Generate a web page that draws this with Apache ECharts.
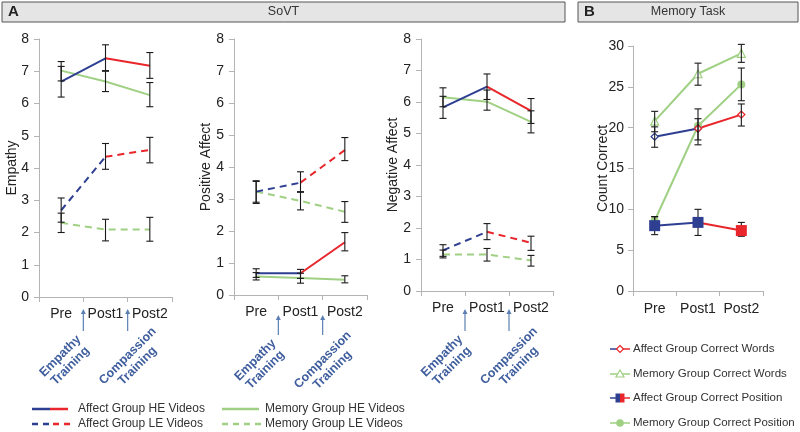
<!DOCTYPE html>
<html><head><meta charset="utf-8">
<script src="https://cdn.jsdelivr.net/npm/echarts@6/dist/echarts.min.js"></script>
<style>html,body{margin:0;padding:0;background:#fff}#c{width:800px;height:432px}</style>
</head><body><div id="c"></div>
<script>
// ---------- DATA ----------
const categories = ['Pre', 'Post1', 'Post2'];
const yTicksA = [0, 1, 2, 3, 4, 5, 6, 7, 8];
const yTicksB = [0, 5, 10, 15, 20, 25, 30];

// Empathy
const empAffectHE = [6.68, 7.40, 7.17];
const empAffectHELo = [6.20, 7.02, 6.78];
const empAffectHEHi = [7.15, 7.82, 7.58];
const empMemoryHE = [7.02, 6.68, 6.26];
const empMemoryHELo = [6.70, 6.37, 5.90];
const empMemoryHEHi = [7.30, 7.00, 6.65];
const empAffectLE = [2.69, 4.35, 4.56];
const empAffectLELo = [2.32, 3.96, 4.16];
const empAffectLEHi = [3.07, 4.76, 4.95];
const empMemoryLE = [2.30, 2.09, 2.09];
const empMemoryLELo = [2.00, 1.74, 1.73];
const empMemoryLEHi = [2.60, 2.41, 2.47];

// Positive Affect
const posAffectHE = [0.68, 0.68, 1.65];
const posAffectHELo = [0.55, 0.52, 1.38];
const posAffectHEHi = [0.82, 0.80, 1.95];
const posMemoryHE = [0.58, 0.53, 0.48];
const posMemoryHELo = [0.47, 0.37, 0.38];
const posMemoryHEHi = [0.70, 0.68, 0.60];
const posAffectLE = [3.23, 3.51, 4.53];
const posAffectLELo = [2.86, 3.21, 4.20];
const posAffectLEHi = [3.57, 3.85, 4.92];
const posMemoryLE = [3.23, 2.94, 2.60];
const posMemoryLELo = [2.90, 2.66, 2.27];
const posMemoryLEHi = [3.55, 3.23, 2.92];

// Negative Affect
const negAffectHE = [5.83, 6.49, 5.72];
const negAffectHELo = [5.48, 6.08, 5.32];
const negAffectHEHi = [6.18, 6.89, 6.11];
const negMemoryHE = [6.15, 6.01, 5.37];
const negMemoryHELo = [5.85, 5.74, 5.02];
const negMemoryHEHi = [6.45, 6.38, 5.72];
const negAffectLE = [1.29, 1.88, 1.53];
const negAffectLELo = [1.10, 1.63, 1.29];
const negAffectLEHi = [1.47, 2.14, 1.74];
const negMemoryLE = [1.16, 1.16, 0.97];
const negMemoryLELo = [1.05, 0.95, 0.79];
const negMemoryLEHi = [1.30, 1.35, 1.13];

// Memory task
const memAffectWords = [18.9, 19.9, 21.6];
const memAffectWordsLo = [17.6, 18.5, 20.2];
const memAffectWordsHi = [20.1, 21.1, 22.9];
const memMemoryWords = [20.8, 26.6, 29.1];
const memMemoryWordsLo = [19.5, 25.2, 28.0];
const memMemoryWordsHi = [22.0, 27.9, 30.2];
const memAffectPos = [8.0, 8.4, 7.4];
const memAffectPosLo = [6.9, 6.8, 6.7];
const memAffectPosHi = [9.1, 10.0, 8.4];
const memMemoryPos = [8.6, 20.2, 25.3];
const memMemoryPosLo = [7.9, 17.9, 23.3];
const memMemoryPosHi = [9.1, 22.3, 27.3];

const panelNames = ['Empathy', 'Positive Affect', 'Negative Affect', 'Count Correct'];
const trainingLabels = ['Empathy\nTraining', 'Compassion\nTraining'];
const legendA = ['Affect Group HE Videos', 'Affect Group LE Videos', 'Memory Group HE Videos', 'Memory Group LE Videos'];
const legendB = ['Affect Group Correct Words', 'Memory Group Correct Words', 'Affect Group Correct Position', 'Memory Group Correct Position'];

// ---------- STYLE ----------
const BLUE = '#2e3f92', RED = '#e8262b', GREEN = '#9fd083', AXIS = '#b4b4b4', TXT = '#333', ANN = '#3f5e9e';
const TICKFONT = "'Liberation Sans', Arial, sans-serif";
const NARROW = "'Liberation Sans', Arial, sans-serif";
const DASH = [7, 5];

const grids = [
  {left: 39, top: 39, width: 133, height: 258},
  {left: 234, top: 39, width: 133, height: 256},
  {left: 421, top: 39, width: 132, height: 252},
  {left: 633, top: 46, width: 130, height: 245}
];
const nameGaps = [20, 21, 21, 23];

const chart = echarts.init(document.getElementById('c'), null, {renderer: 'canvas'});

const xAxes = grids.map((g, i) => ({
  type: 'category', gridIndex: i, data: categories, boundaryGap: true,
  axisLine: {lineStyle: {color: AXIS, width: 1}},
  axisTick: {show: true, interval: 0, length: 5, lineStyle: {color: AXIS}},
  axisLabel: {color: '#222', fontSize: 14, fontFamily: TICKFONT, margin: i === 3 ? 11 : 10, interval: 0}
}));
const yAxes = grids.map((g, i) => ({
  type: 'value', gridIndex: i, min: 0, max: i === 3 ? yTicksB[yTicksB.length - 1] : yTicksA[yTicksA.length - 1],
  interval: i === 3 ? yTicksB[1] - yTicksB[0] : yTicksA[1] - yTicksA[0],
  name: panelNames[i], nameLocation: 'middle', nameGap: nameGaps[i], nameMoveOverlap: false,
  nameTextStyle: {color: '#222', fontSize: 14, fontFamily: TICKFONT},
  axisLine: {show: true, lineStyle: {color: AXIS, width: 1}},
  axisTick: {show: true, length: 5, lineStyle: {color: AXIS}},
  axisLabel: {color: '#222', fontSize: 14, fontFamily: TICKFONT, margin: i === 3 ? 9 : 10},
  splitLine: {show: false}
}));

function errSeries(gi, sets) {
  const data = [];
  sets.forEach(s => { s[0].forEach((lo, k) => data.push([k, lo, s[1][k]])); });
  return {
    type: 'custom', xAxisIndex: gi, yAxisIndex: gi, z: 5, silent: true,
    data: data, encode: {x: 0, y: [1, 2]},
    renderItem: function (params, api) {
      const x = api.value(0);
      const p1 = api.coord([x, api.value(1)]);
      const p2 = api.coord([x, api.value(2)]);
      const w = 3.5;
      const st = {stroke: '#1a1a1a', lineWidth: 1.1};
      return {type: 'group', children: [
        {type: 'line', shape: {x1: p1[0], y1: p1[1], x2: p2[0], y2: p2[1]}, style: st},
        {type: 'line', shape: {x1: p1[0] - w, y1: p1[1], x2: p1[0] + w, y2: p1[1]}, style: st},
        {type: 'line', shape: {x1: p2[0] - w, y1: p2[1], x2: p2[0] + w, y2: p2[1]}, style: st}
      ]};
    }
  };
}

function lineS(gi, data, color, dashed, extra) {
  return Object.assign({
    type: 'line', xAxisIndex: gi, yAxisIndex: gi, data: data, symbol: 'none',
    lineStyle: {color: color, width: 2, type: dashed ? DASH : 'solid'}, z: 3, silent: true, animation: false
  }, extra || {});
}
const firstTwo = a => [a[0], a[1], '-'];
const lastTwo = a => ['-', a[1], a[2]];

const series = [];
const panelsA = [
  [empAffectHE, empMemoryHE, empAffectLE, empMemoryLE,
   [[empAffectHELo, empAffectHEHi], [empMemoryHELo, empMemoryHEHi], [empAffectLELo, empAffectLEHi], [empMemoryLELo, empMemoryLEHi]]],
  [posAffectHE, posMemoryHE, posAffectLE, posMemoryLE,
   [[posAffectHELo, posAffectHEHi], [posMemoryHELo, posMemoryHEHi], [posAffectLELo, posAffectLEHi], [posMemoryLELo, posMemoryLEHi]]],
  [negAffectHE, negMemoryHE, negAffectLE, negMemoryLE,
   [[negAffectHELo, negAffectHEHi], [negMemoryHELo, negMemoryHEHi], [negAffectLELo, negAffectLEHi], [negMemoryLELo, negMemoryLEHi]]]
];
panelsA.forEach((p, gi) => {
  series.push(lineS(gi, p[1], GREEN, false));
  series.push(lineS(gi, p[3], GREEN, true));
  series.push(lineS(gi, firstTwo(p[0]), BLUE, false));
  series.push(lineS(gi, lastTwo(p[0]), RED, false));
  series.push(lineS(gi, firstTwo(p[2]), BLUE, true));
  series.push(lineS(gi, lastTwo(p[2]), RED, true));
  series.push(errSeries(gi, p[4]));
});

// Memory task panel
const gB = 3;
series.push(lineS(gB, memMemoryPos, GREEN, false, {symbol: 'circle', symbolSize: 8, showSymbol: true, itemStyle: {color: GREEN}}));
series.push(lineS(gB, memMemoryWords, GREEN, false, {symbol: 'triangle', symbolSize: 8, showSymbol: true, itemStyle: {color: '#fff', borderColor: GREEN, borderWidth: 1.2}}));
series.push(lineS(gB, firstTwo(memAffectWords), BLUE, false, {symbol: 'diamond', symbolSize: 7, showSymbol: true, itemStyle: {color: '#fff', borderColor: BLUE, borderWidth: 1.3}}));
series.push(lineS(gB, lastTwo(memAffectWords), RED, false, {symbol: 'diamond', symbolSize: 7, showSymbol: true, itemStyle: {color: '#fff', borderColor: RED, borderWidth: 1.3}}));
series.push(errSeries(gB, [[memAffectWordsLo, memAffectWordsHi], [memMemoryWordsLo, memMemoryWordsHi], [memMemoryPosLo, memMemoryPosHi], [memAffectPosLo, memAffectPosHi]]));
series.push(lineS(gB, firstTwo(memAffectPos), BLUE, false, {symbol: 'rect', symbolSize: 11, showSymbol: true, itemStyle: {color: BLUE}, z: 6}));
series.push(lineS(gB, lastTwo(memAffectPos).map((v, k) => k === 1 ? {value: v, symbol: 'none'} : v), RED, false, {symbol: 'rect', symbolSize: 11, showSymbol: true, itemStyle: {color: RED}, z: 6}));

// ---------- GRAPHIC (headers, arrows, annotations, legends) ----------
const graphic = [];
function header(x, w, letter, title) {
  graphic.push({type: 'rect', shape: {x: x, y: 2, width: w, height: 20}, style: {fill: '#e5e5e5', stroke: '#555', lineWidth: 1}, silent: true});
  graphic.push({type: 'text', x: x + 6, y: 12, style: {text: letter, fontSize: 15, fontWeight: 'bold', fontFamily: TICKFONT, fill: '#222', verticalAlign: 'middle'}, silent: true});
  graphic.push({type: 'text', x: x + w / 2, y: 12, style: {text: title, fontSize: 12.5, fontFamily: NARROW, fill: TXT, align: 'center', verticalAlign: 'middle'}, silent: true});
}
header(2, 563, 'A', 'SoVT');
header(578, 220, 'B', 'Memory Task');

const arrowY = [[309, 331], [315, 335], [309, 331]];
const annY = [361, 365, 361];
for (let gi = 0; gi < 3; gi++) {
  const g = grids[gi];
  [1, 2].forEach((b, j) => {
    const ax = g.left + g.width * b / 3;
    const [yt, yb] = arrowY[gi];
    graphic.push({type: 'line', shape: {x1: ax, y1: yt + 4, x2: ax, y2: yb}, style: {stroke: '#5b7fb3', lineWidth: 1.2}, silent: true});
    graphic.push({type: 'polygon', shape: {points: [[ax, yt], [ax - 2.5, yt + 5], [ax + 2.5, yt + 5]]}, style: {fill: '#5b7fb3'}, silent: true});
    const cx = ax + (j === 0 ? -18 : 5);
    graphic.push({type: 'text', x: cx, y: annY[gi], rotation: Math.PI / 4,
      style: {text: trainingLabels[j], fontSize: 12.5, fontWeight: 'bold', fontFamily: TICKFONT, fill: ANN, align: 'center', verticalAlign: 'middle', lineHeight: 14}, silent: true});
  });
}

// Legend A
function legLine(x1, x2, y, color, dashed) {
  graphic.push({type: 'line', shape: {x1: x1, y1: y, x2: x2, y2: y}, style: {stroke: color, lineWidth: 2.5, lineDash: dashed ? [6, 5] : null}, silent: true});
}
function legText(x, y, t, fs) {
  graphic.push({type: 'text', x: x, y: y, style: {text: t, fontSize: fs || 12, fontFamily: NARROW, fill: TXT, verticalAlign: 'middle'}, silent: true});
}
legLine(32, 50, 409, BLUE, false); legLine(50, 68, 409, RED, false); legText(78, 409, legendA[0]);
legLine(32, 50, 424, BLUE, true); legLine(53, 70, 424, RED, true); legText(78, 424, legendA[1]);
legLine(222, 259, 409, GREEN, false); legText(265, 409, legendA[2]);
legLine(222, 262, 424, GREEN, true); legText(265, 424, legendA[3]);

// Legend B
const lbY = [349, 374, 398, 423];
function legLineB(y, c1, c2) {
  graphic.push({type: 'line', shape: {x1: 610, y1: y, x2: 620, y2: y}, style: {stroke: c1, lineWidth: 1.5}, silent: true});
  graphic.push({type: 'line', shape: {x1: 620, y1: y, x2: 630, y2: y}, style: {stroke: c2, lineWidth: 1.5}, silent: true});
}
legLineB(lbY[0], BLUE, RED);
graphic.push({type: 'polygon', shape: {points: [[620, lbY[0] - 3.5], [623.5, lbY[0]], [620, lbY[0] + 3.5], [616.5, lbY[0]]]}, style: {fill: '#fff', stroke: RED, lineWidth: 1.2}, silent: true});
legText(633, lbY[0], legendB[0], 11.5);
legLineB(lbY[1], GREEN, GREEN);
graphic.push({type: 'polygon', shape: {points: [[620, lbY[1] - 4], [624, lbY[1] + 3], [616, lbY[1] + 3]]}, style: {fill: '#fff', stroke: GREEN, lineWidth: 1.2}, silent: true});
legText(633, lbY[1], legendB[1], 11.5);
legLineB(lbY[2], BLUE, RED);
graphic.push({type: 'rect', shape: {x: 615.5, y: lbY[2] - 4.5, width: 4.5, height: 9}, style: {fill: BLUE}, silent: true});
graphic.push({type: 'rect', shape: {x: 620, y: lbY[2] - 4.5, width: 4.5, height: 9}, style: {fill: RED}, silent: true});
legText(633, lbY[2], legendB[2], 11.5);
legLineB(lbY[3], GREEN, GREEN);
graphic.push({type: 'circle', shape: {cx: 620, cy: lbY[3], r: 3.8}, style: {fill: GREEN}, silent: true});
legText(633, lbY[3], legendB[3], 11.5);

chart.setOption({
  animation: false,
  backgroundColor: '#fff',
  grid: grids,
  xAxis: xAxes,
  yAxis: yAxes,
  series: series,
  graphic: graphic
});
</script></body></html>
